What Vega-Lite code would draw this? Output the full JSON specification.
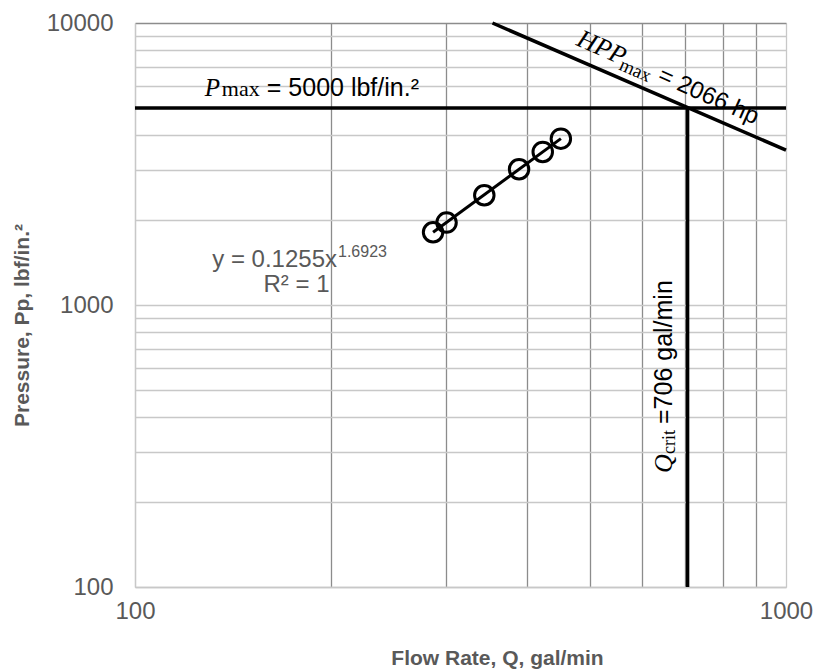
{
  "$schema": "https://vega.github.io/schema/vega-lite/v6.json",
  "width": 651,
  "height": 564,
  "autosize": {"type": "none"},
  "padding": {"left": 135, "top": 23, "right": 28, "bottom": 85},
  "background": "white",
  "config": {"view": {"stroke": null}, "font": "Liberation Sans"},
  "encoding": {
    "x": {
      "field": "Q", "type": "quantitative",
      "scale": {"type": "log", "domain": [100, 1000], "nice": false},
      "axis": {
        "values": [100, 200, 300, 400, 500, 600, 700, 800, 900, 1000],
        "format": "d",
        "labelExpr": "datum.value == 100 || datum.value == 1000 ? datum.label : ''",
        "labelFlush": false, "labelOverlap": false,
        "grid": true,
        "gridColor": {"condition": {"test": "datum.value == 100 || datum.value == 1000", "value": "#c8c8c8"}, "value": "#8c8c8c"},
        "gridWidth": 1.3,
        "ticks": false,
        "domainColor": "#c8c8c8", "domainWidth": 1.3,
        "labelColor": "#595959", "labelFontSize": 24, "labelFont": "Liberation Sans", "labelPadding": 12,
        "title": "Flow Rate, Q, gal/min",
        "titleFont": "Liberation Sans", "titleFontSize": 21, "titleFontWeight": "bold", "titleColor": "#595959",
        "titleX": 362, "titleY": 60, "titleBaseline": "top", "titleAlign": "center", "titleAnchor": null
      }
    },
    "y": {
      "field": "P", "type": "quantitative",
      "scale": {"type": "log", "domain": [100, 10000], "nice": false},
      "axis": {
        "values": [100, 200, 300, 400, 500, 600, 700, 800, 900, 1000, 2000, 3000, 4000, 5000, 6000, 7000, 8000, 9000, 10000],
        "format": "d",
        "labelExpr": "datum.value == 100 || datum.value == 1000 || datum.value == 10000 ? datum.label : ''",
        "labelOverlap": false,
        "grid": true,
        "gridColor": {"condition": {"test": "datum.value == 10000", "value": "#8c8c8c"}, "value": "#c8c8c8"},
        "gridWidth": 1.3,
        "ticks": false,
        "domainColor": "#c8c8c8", "domainWidth": 1.3,
        "labelColor": "#595959", "labelFontSize": 24, "labelFont": "Liberation Sans", "labelPadding": 22,
        "title": "Pressure, Pp, lbf/in.²",
        "titleFont": "Liberation Sans", "titleFontSize": 21, "titleFontWeight": "bold", "titleColor": "#595959",
        "titleX": -113, "titleY": 302, "titleAngle": -90, "titleBaseline": "middle", "titleAlign": "center", "titleAnchor": null
      }
    }
  },
  "layer": [
    {
      "data": {"values": [
        {"line": "Pmax", "i": 0, "Q": 100, "P": 5000},
        {"line": "Pmax", "i": 1, "Q": 1000, "P": 5000},
        {"line": "Qcrit", "i": 0, "Q": 706, "P": 100},
        {"line": "Qcrit", "i": 1, "Q": 706, "P": 5000},
        {"line": "HPPmax", "i": 0, "Q": 354.1, "P": 10000},
        {"line": "HPPmax", "i": 1, "Q": 1000, "P": 3541}
      ]},
      "mark": {"type": "line", "color": "black", "strokeWidth": 3.5, "strokeCap": "butt"},
      "encoding": {"detail": {"field": "line"}, "order": {"field": "i"}}
    },
    {
      "data": {"values": [
        {"Q": 287, "P": 1811},
        {"Q": 451, "P": 3890}
      ]},
      "mark": {"type": "line", "color": "black", "strokeWidth": 3},
      "encoding": {}
    },
    {
      "data": {"values": [
        {"Q": 287, "P": 1811},
        {"Q": 301, "P": 1960},
        {"Q": 344, "P": 2450},
        {"Q": 389, "P": 3030},
        {"Q": 423, "P": 3490},
        {"Q": 451, "P": 3890}
      ]},
      "mark": {"type": "point", "shape": "circle", "filled": false, "color": "black", "strokeWidth": 3, "size": 380, "opacity": 1},
      "encoding": {}
    },
    {
      "data": {"values": [{"Q": 128, "P": 5000, "t": "P"}]},
      "mark": {"type": "text", "font": "Liberation Serif", "fontStyle": "italic", "fontSize": 25, "align": "left", "baseline": "alphabetic", "dy": -12, "color": "black"},
      "encoding": {"text": {"field": "t"}}
    },
    {
      "data": {"values": [{"Q": 128, "P": 5000, "t": "max"}]},
      "mark": {"type": "text", "font": "Liberation Serif", "fontSize": 22, "align": "left", "baseline": "alphabetic", "dx": 17, "dy": -12, "color": "black"},
      "encoding": {"text": {"field": "t"}}
    },
    {
      "data": {"values": [{"Q": 128, "P": 5000, "t": "= 5000 lbf/in.²"}]},
      "mark": {"type": "text", "font": "Liberation Sans", "fontSize": 25, "align": "left", "baseline": "alphabetic", "dx": 62, "dy": -12, "color": "black"},
      "encoding": {"text": {"field": "t"}}
    },
    {
      "data": {"values": [{"Q": 465.7, "P": 7604, "t": "HPP"}]},
      "mark": {"type": "text", "font": "Liberation Serif", "fontStyle": "italic", "fontSize": 26, "align": "left", "baseline": "alphabetic", "angle": 24, "dy": -13, "color": "black"},
      "encoding": {"text": {"field": "t"}}
    },
    {
      "data": {"values": [{"Q": 465.7, "P": 7604, "t": "max"}]},
      "mark": {"type": "text", "font": "Liberation Serif", "fontSize": 19, "align": "left", "baseline": "alphabetic", "angle": 24, "dx": 49, "dy": -8, "color": "black"},
      "encoding": {"text": {"field": "t"}}
    },
    {
      "data": {"values": [{"Q": 465.7, "P": 7604, "t": "= 2066 hp"}]},
      "mark": {"type": "text", "font": "Liberation Sans", "fontSize": 24, "align": "left", "baseline": "alphabetic", "angle": 24, "dx": 89, "dy": -13, "color": "black"},
      "encoding": {"text": {"field": "t"}}
    },
    {
      "data": {"values": [{"Q": 706, "P": 253.6, "t": "Q"}]},
      "mark": {"type": "text", "font": "Liberation Serif", "fontStyle": "italic", "fontSize": 26, "align": "left", "baseline": "alphabetic", "angle": 270, "dy": -16, "color": "black"},
      "encoding": {"text": {"field": "t"}}
    },
    {
      "data": {"values": [{"Q": 706, "P": 253.6, "t": "crit"}]},
      "mark": {"type": "text", "font": "Liberation Serif", "fontSize": 18, "align": "left", "baseline": "alphabetic", "angle": 270, "dx": 19, "dy": -13, "color": "black"},
      "encoding": {"text": {"field": "t"}}
    },
    {
      "data": {"values": [{"Q": 706, "P": 253.6, "t": "=706 gal/min"}]},
      "mark": {"type": "text", "font": "Liberation Sans", "fontSize": 25, "align": "left", "baseline": "alphabetic", "angle": 270, "dx": 49, "dy": -16, "color": "black"},
      "encoding": {"text": {"field": "t"}}
    },
    {
      "data": {"values": [{"Q": 204.3, "P": 1364, "t": "y = 0.1255x"}]},
      "mark": {"type": "text", "font": "Liberation Sans", "fontSize": 24, "align": "right", "baseline": "alphabetic", "color": "#595959"},
      "encoding": {"text": {"field": "t"}}
    },
    {
      "data": {"values": [{"Q": 204.3, "P": 1364, "t": "1.6923"}]},
      "mark": {"type": "text", "font": "Liberation Sans", "fontSize": 16, "align": "left", "baseline": "alphabetic", "dx": 1, "dy": -10, "color": "#595959"},
      "encoding": {"text": {"field": "t"}}
    },
    {
      "data": {"values": [{"Q": 199, "P": 1112, "t": "R² = 1"}]},
      "mark": {"type": "text", "font": "Liberation Sans", "fontSize": 24, "align": "right", "baseline": "alphabetic", "color": "#595959"},
      "encoding": {"text": {"field": "t"}}
    }
  ]
}
